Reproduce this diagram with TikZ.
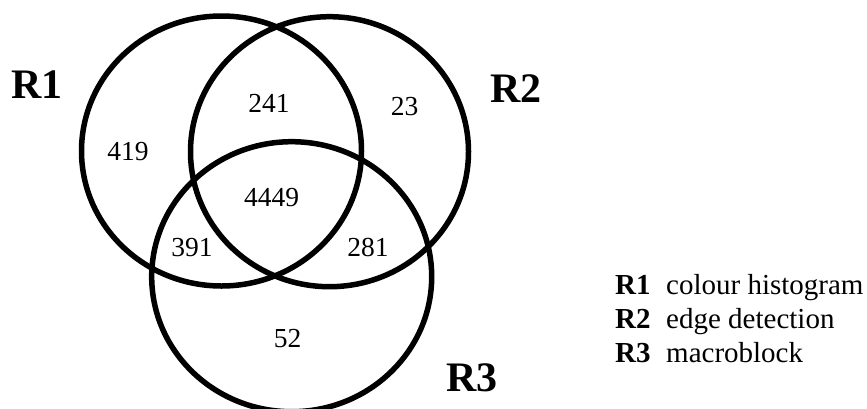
\documentclass[tikz,border=0pt]{standalone}
\usepackage{fontspec}
\setmainfont{Liberation Serif}
\begin{document}
\begin{tikzpicture}[x=1pt,y=-1pt,
  ring/.style={line width=5.5pt},
  num/.style={font=\fontsize{27.5}{32}\selectfont, inner sep=0pt},
  setlab/.style={font=\fontsize{42}{48}\selectfont\bfseries, inner sep=0pt},
  legkey/.style={font=\fontsize{29}{34}\selectfont\bfseries, inner sep=0pt, anchor=base west},
  legtxt/.style={font=\fontsize{29}{34}\selectfont, inner sep=0pt, anchor=base west}]
\useasboundingbox (0,0) rectangle (867,408);
\begin{scope}
\clip (0,0) rectangle (867,408);
\draw[ring] (221.5,151) ellipse [x radius=140, y radius=135];
\draw[ring] (329.5,151.7) ellipse [x radius=139, y radius=135];
\draw[ring] (291.7,276.7) ellipse [x radius=140, y radius=135];
\end{scope}
\node[setlab] (l1) at (37,84.5) {R1};
\node[setlab] (l2) at (516,89) {R2};
\node[setlab] (l3) at (472,378) {R3};
\node[num] (n419) at (128,152) {419};
\node[num] (n241) at (269,103.5) {241};
\node[num] (n23) at (404.5,106.5) {23};
\node[num] (n4449) at (271.5,198) {4449};
\node[num] (n391) at (192,248) {391};
\node[num] (n281) at (368,247.5) {281};
\node[num] (n52) at (287.5,338.5) {52};
\node[legkey] (k1) at (615,294) {R1};
\node[legtxt] (t1) at (666,294) {colour histogram};
\node[legkey] (k2) at (615,328) {R2};
\node[legtxt] (t2) at (666,328) {edge detection};
\node[legkey] (k3) at (615,362) {R3};
\node[legtxt] (t3) at (666,362) {macroblock};
\end{tikzpicture}
\end{document}
